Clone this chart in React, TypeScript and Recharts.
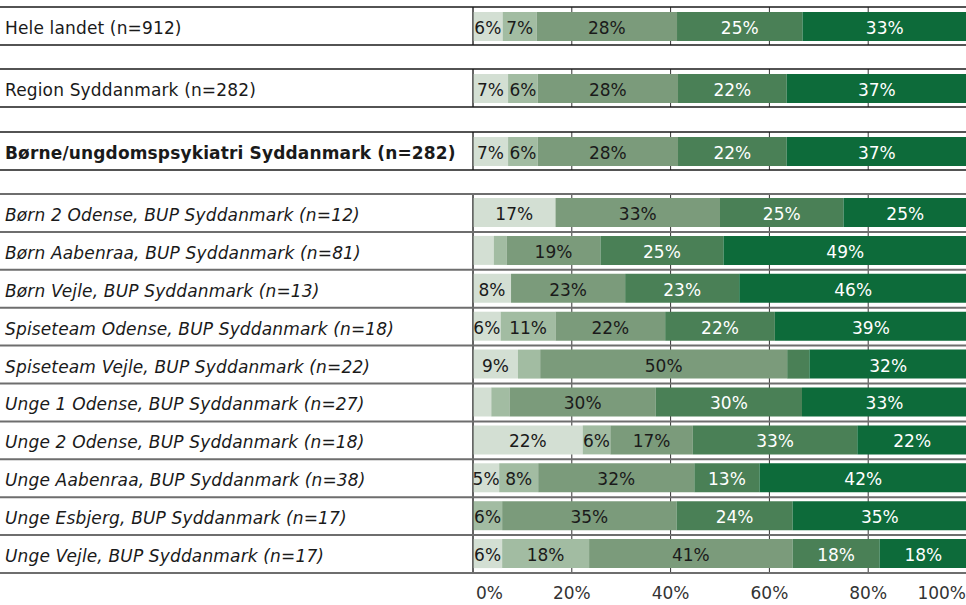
import React from 'react';
import { BarChart, Bar, XAxis, YAxis, CartesianGrid, LabelList } from 'recharts';

const categories = [
  'Hele landet (n=912)',
  'Region Syddanmark (n=282)',
  'Børne/ungdomspsykiatri Syddanmark (n=282)',
  'Børn 2 Odense, BUP Syddanmark (n=12)',
  'Børn Aabenraa, BUP Syddanmark (n=81)',
  'Børn Vejle, BUP Syddanmark (n=13)',
  'Spiseteam Odense, BUP Syddanmark (n=18)',
  'Spiseteam Vejle, BUP Syddanmark (n=22)',
  'Unge 1 Odense, BUP Syddanmark (n=27)',
  'Unge 2 Odense, BUP Syddanmark (n=18)',
  'Unge Aabenraa, BUP Syddanmark (n=38)',
  'Unge Esbjerg, BUP Syddanmark (n=17)',
  'Unge Vejle, BUP Syddanmark (n=17)',
];

// share of answers (%) per answer category, lightest to darkest
const level1 = [6.0, 7.1, 7.1, 16.7, 4.2, 7.7, 5.6, 9.1, 3.7, 22.2, 5.3, 0, 5.9];
const level2 = [6.9, 6.0, 6.0, 0, 2.6, 0, 11.1, 4.5, 3.7, 5.6, 7.9, 5.9, 17.6];
const level3 = [28.4, 28.4, 28.4, 33.3, 19.0, 23.1, 22.2, 50.0, 29.6, 16.7, 31.6, 35.3, 41.2];
const level4 = [25.4, 22.0, 22.0, 25.0, 24.9, 23.1, 22.2, 4.5, 29.6, 33.3, 13.2, 23.5, 17.6];
const level5 = [33.3, 36.5, 36.5, 25.0, 49.3, 46.1, 38.9, 31.9, 33.4, 22.2, 42.0, 35.3, 17.7];

const xTicks = [0, 20, 40, 60, 80, 100];

const rows = categories.map((label, i) => ({
  label,
  l1: level1[i],
  l2: level2[i],
  l3: level3[i],
  l4: level4[i],
  l5: level5[i],
}));

const series = [
  { key: 'l1', color: '#d3dfd3', text: '#1a1a1a' },
  { key: 'l2', color: '#a2bca2', text: '#1a1a1a' },
  { key: 'l3', color: '#7b9b7b', text: '#1a1a1a' },
  { key: 'l4', color: '#4a8056', text: '#ffffff' },
  { key: 'l5', color: '#0d6b3a', text: '#ffffff' },
];

const FONT = 'Verdana, "DejaVu Sans", sans-serif';
const W = 967;
const AXIS_X = 473;

const RowTick = (props: any) => {
  const { y, payload, index, band, count, weight, italic, lineColor, lineWidth } = props;
  return (
    <g>
      <line x1={0} x2={W} y1={y - band / 2} y2={y - band / 2} stroke={lineColor} strokeWidth={lineWidth} />
      {index === count - 1 && (
        <line x1={0} x2={W} y1={y + band / 2} y2={y + band / 2} stroke={lineColor} strokeWidth={lineWidth} />
      )}
      <text
        x={5}
        y={y}
        dy="0.47em"
        fill="#1a1a1a"
        fontFamily={FONT}
        fontSize={17}
        letterSpacing={0.15}
        fontWeight={weight}
        fontStyle={italic ? 'italic' : 'normal'}
      >
        {payload.value}
      </text>
    </g>
  );
};

const PctTick = (props: any) => {
  const { x, y, payload } = props;
  const v = payload.value;
  const anchor = v === 0 ? 'start' : v === 100 ? 'end' : 'middle';
  const tx = v === 0 ? x + 3 : v === 100 ? 966 : x;
  return (
    <text x={tx} y={y} dy="1.04em" textAnchor={anchor} fill="#333" fontFamily={FONT} fontSize={17}>
      {v}%
    </text>
  );
};

const segLabel = (textColor: string) => (props: any) => {
  const { x, y, width, height, value } = props;
  if (value == null || value < 5) return null;
  return (
    <text
      x={x + width / 2}
      y={y + height / 2}
      dy="0.44em"
      textAnchor="middle"
      fill={textColor}
      fontFamily={FONT}
      fontSize={17}
    >
      {Math.round(value)}%
    </text>
  );
};

interface BlockProps {
  from: number;
  to: number;
  top: number;
  rowHeight: number;
  weight?: string;
  italic?: boolean;
  lineColor: string;
  lineWidth: number;
  showAxis?: boolean;
}

const Block: React.FC<BlockProps> = ({ from, to, top, rowHeight, weight = 'normal', italic = false, lineColor, lineWidth, showAxis = false }) => {
  const data = rows.slice(from, to);
  const n = data.length;
  const plotH = n * rowHeight;
  const height = 2 + plotH + (showAxis ? 30 : 2);
  return (
    <div style={{ position: 'absolute', left: 0, top: top - 2 }}>
      <BarChart
        width={W}
        height={height}
        data={data}
        layout="vertical"
        margin={{ top: 2, right: 0, bottom: showAxis ? 0 : 2, left: 0 }}
        barSize={29}
      >
        <CartesianGrid horizontal={false} stroke="#333" strokeWidth={1} />
        <XAxis
          type="number"
          domain={[0, 100]}
          ticks={xTicks}
          hide={!showAxis}
          height={30}
          axisLine={false}
          tickLine={false}
          tick={PctTick}
          interval={0}
        />
        <YAxis
          type="category"
          dataKey="label"
          width={AXIS_X}
          axisLine={{ stroke: '#333', strokeWidth: 1 }}
          tickLine={false}
          interval={0}
          tick={(p: any) => (
            <RowTick
              {...p}
              band={rowHeight}
              count={n}
              weight={weight}
              italic={italic}
              lineColor={lineColor}
              lineWidth={lineWidth}
            />
          )}
        />
        {series.map((s) => (
          <Bar key={s.key} dataKey={s.key} stackId="a" fill={s.color} isAnimationActive={false}>
            <LabelList dataKey={s.key} content={segLabel(s.text)} />
          </Bar>
        ))}
      </BarChart>
    </div>
  );
};

export default function App() {
  return (
    <div style={{ position: 'absolute', left: 0, top: 0, width: 966, height: 605, overflow: 'hidden', background: '#fff' }}>
      <Block from={0} to={1} top={7} rowHeight={38} lineColor="#1a1a1a" lineWidth={1.5} />
      <Block from={1} to={2} top={69} rowHeight={38} lineColor="#1a1a1a" lineWidth={1.5} />
      <Block from={2} to={3} top={132} rowHeight={38} weight="bold" lineColor="#1a1a1a" lineWidth={1.5} />
      <Block from={3} to={13} top={194} rowHeight={37.9} italic lineColor="#6e6e6e" lineWidth={2} showAxis />
    </div>
  );
}
